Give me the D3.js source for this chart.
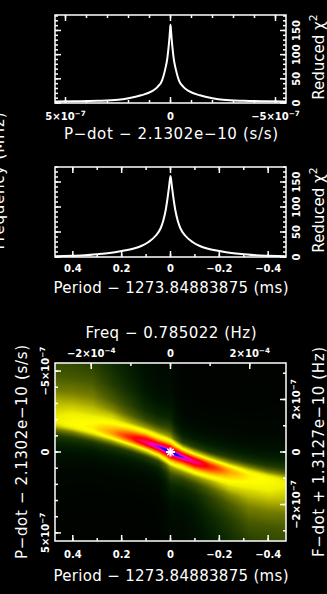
<!DOCTYPE html>
<html>
<head>
<meta charset="utf-8">
<script src="https://cdn.jsdelivr.net/npm/d3@7"></script>
<style>
  html, body { margin: 0; padding: 0; background: #000; }
  svg { display: block; }
  text { fill: #fff; font-family: "DejaVu Sans", "Liberation Sans", Arial, sans-serif; }
</style>
</head>
<body>
<svg id="chart" width="327" height="594"></svg>
<script>
// reduced chi^2 against P-dot offset (units of 1e-7 s/s), best period
const pdotOffsets = [5.5, 4.5, 3.5, 2.5, 2, 1.4, 0.9, 0.6, 0.4, 0.25, 0.15, 0.1, 0.05, 0.02, 0,
  -0.02, -0.05, -0.1, -0.15, -0.25, -0.4, -0.6, -0.9, -1.4, -2, -2.5, -3.5, -4.5, -5.5];
const pdotChi2 = [3, 3.6, 4.6, 6.8, 10, 16, 24, 34, 47, 70, 93, 112, 135, 152, 162,
  152, 135, 112, 93, 70, 47, 34, 24, 16, 10, 6.8, 4.6, 3.6, 3];

// reduced chi^2 against period offset (ms), best P-dot
const periodOffsets = [0.473, 0.4, 0.35, 0.3, 0.25, 0.2, 0.15, 0.12, 0.09, 0.06, 0.04, 0.03, 0.02, 0.012, 0.006, 0,
  -0.006, -0.012, -0.02, -0.03, -0.04, -0.06, -0.09, -0.12, -0.15, -0.2, -0.25, -0.3, -0.35, -0.4, -0.473];
const periodChi2 = [1.5, 2.5, 3.5, 5.5, 8, 12, 17, 22, 30, 43, 58, 72, 93, 118, 140, 162,
  140, 118, 93, 72, 58, 43, 30, 22, 17, 12, 8, 5.5, 3.5, 2.5, 1.5];

// P / P-dot plane: one column per period offset, rows are P-dot offsets from the ridge
const mapPeriods = [0.473, 0.4, 0.32, 0.24, 0.16, 0.1, 0.05, 0.02, 0, -0.02, -0.05, -0.1, -0.16, -0.24, -0.32, -0.4, -0.473];
const mapRidgePdot = [-1.9, -1.74, -1.5, -1.2, -0.88, -0.6, -0.33, -0.14, 0, 0.14, 0.33, 0.6, 0.88, 1.2, 1.5, 1.74, 1.9];
const mapRowOffsets = [-9, -6, -4, -3, -2, -1.4, -0.9, -0.5, -0.25, -0.1, 0, 0.1, 0.25, 0.5, 0.9, 1.4, 2, 3, 4, 6, 9];
const mapChi2 = [
  [11, 13, 15, 17, 20.5, 24, 26.5, 28.5, 29.5, 30, 30, 29, 27, 21, 13, 8, 5, 3, 2, 1.4, 1],
  [10, 12, 14.5, 17, 21, 24.5, 28, 31, 32.5, 33, 33.5, 33, 30, 22, 13, 7.5, 4.5, 2.8, 1.8, 1.3, 1],
  [9, 11, 14, 17, 21, 24.5, 28, 32, 34.5, 35, 35.5, 35, 32, 24, 13, 7, 4, 2.5, 1.6, 1.2, 1],
  [6, 8, 11, 13.5, 18, 22.5, 28.5, 35.5, 40, 42.5, 43, 42, 37, 25, 13, 7, 4, 2.3, 1.5, 1.1, 0.9],
  [4, 5, 7.5, 10, 14, 18.5, 25, 38, 50, 56, 58, 55, 46, 28, 13, 7, 4, 2.3, 1.4, 1, 0.8],
  [3, 3.5, 5, 6.5, 10.5, 15.5, 24, 40, 58, 75, 82, 73, 52, 30, 14, 7, 4, 2.3, 1.4, 1, 0.8],
  [2.5, 3, 4, 5, 9, 14.5, 23.5, 38, 56, 90, 110, 89, 55, 33, 15, 8, 4.5, 2.6, 1.8, 1.3, 1],
  [2, 2.8, 4, 5, 9.5, 15.5, 24, 40, 62, 102, 142, 100, 60, 38, 20, 12, 7, 4.2, 3, 2.2, 1.6],
  [2, 2.8, 4, 5.5, 10, 16, 24, 42, 66, 104, 162, 104, 66, 42, 24, 16, 10, 5.5, 4, 2.8, 2],
  [1.6, 2.2, 3, 4.2, 7, 12, 20, 38, 60, 100, 142, 102, 62, 40, 24, 15.5, 9.5, 5, 4, 2.8, 2],
  [1, 1.3, 1.8, 2.6, 4.5, 8, 15, 33, 55, 89, 110, 90, 56, 38, 23.5, 14.5, 9, 5, 4, 3, 2.5],
  [0.8, 1, 1.4, 2.3, 4, 7, 14, 30, 52, 73, 82, 75, 58, 40, 24, 15.5, 10.5, 6.5, 5, 3.5, 3],
  [0.8, 1, 1.4, 2.3, 4, 7, 13, 28, 46, 55, 58, 56, 50, 38, 25, 18.5, 14, 10, 7.5, 5, 4],
  [0.9, 1.1, 1.5, 2.3, 4, 7, 13, 25, 37, 42, 43, 42.5, 40, 35.5, 28.5, 22.5, 18, 13.5, 11, 8, 6],
  [1, 1.2, 1.6, 2.5, 4, 7, 13, 24, 32, 35, 35.5, 35, 34.5, 32, 28, 24.5, 21, 17, 14, 11, 9],
  [1, 1.3, 1.8, 2.8, 4.5, 7.5, 13, 22, 30, 33, 33.5, 33, 32.5, 31, 28, 24.5, 21, 17, 14.5, 12, 10],
  [1, 1.4, 2, 3, 5, 8, 13, 21, 27, 29, 30, 30, 29.5, 28.5, 26.5, 24, 20.5, 17, 15, 13, 11]
];

// colour table for the plane (reduced chi^2 -> colour)
const colorStops = [0, 3, 6, 10, 14, 18, 22, 26, 30, 34, 40, 46, 54, 62, 74, 88, 100, 112, 122, 170];
const colorValues = ["#000000", "#000800", "#001600", "#0c2800", "#263e00", "#4a5c00", "#808600", "#c0c000",
  "#f0f000", "#ffff00", "#ffc000", "#ff8000", "#ff3000", "#ff0000", "#ff0058", "#ff00a8", "#c800e8", "#5010ff", "#0000ff", "#0000ff"];

// ticks
const chiTicks = [0, 50, 100, 150];
const chiTickText = ["0", "50", "100", "150"];
const pdotTicks = [5, 0, -5];
const pdotTickText = ["5×10^−7", "0", "−5×10^−7"];
const mapPdotTickText = ["5×10^−7", "0", "−5×10^−7"];
const periodTicks = [0.4, 0.2, 0, -0.2, -0.4];
const periodTickText = ["0.4", "0.2", "0", "−0.2", "−0.4"];
const freqTicks = [-2, 0, 2];
const freqTickText = ["−2×10^−4", "0", "2×10^−4"];
const fdotTicks = [2, 0, -2];
const fdotTickText = ["2×10^−7", "0", "−2×10^−7"];

const svg = d3.select("#chart");
svg.append("rect").attr("width", 327).attr("height", 594).attr("fill", "#000");

const L = 55, R = 286;
const top1 = { y0: 15, y1: 103 }, mid = { y0: 167, y1: 257 }, map = { y0: 363, y1: 541 };

function txt(g, x, y, s, size, opt) {
  opt = opt || {};
  const t = g.append("text").attr("font-size", size).attr("text-anchor", "middle");
  if (opt.rot) t.attr("transform", `translate(${x},${y}) rotate(-90)`);
  else t.attr("x", x).attr("y", y);
  if (opt.bold) t.attr("font-weight", "bold");
  const parts = s.split("^");
  t.append("tspan").text(parts[0]);
  if (parts[1]) t.append("tspan").attr("dy", -size * 0.45).attr("font-size", size * 0.72).text(parts[1]);
  if (opt.len) t.attr("textLength", opt.len).attr("lengthAdjust", "spacing");
  return t;
}

function xTicks(g, sc, vals, yEdge, len) {
  g.append("g").selectAll("line").data(vals).join("line")
    .attr("x1", d => sc(d)).attr("x2", d => sc(d))
    .attr("y1", yEdge).attr("y2", yEdge + len);
}
function yTicks(g, sc, vals, xEdge, len) {
  g.append("g").selectAll("line").data(vals).join("line")
    .attr("y1", d => sc(d)).attr("y2", d => sc(d))
    .attr("x1", xEdge).attr("x2", xEdge + len);
}
function frame(g, y0, y1) {
  g.append("rect").attr("x", L).attr("y", y0).attr("width", R - L).attr("height", y1 - y0)
    .attr("fill", "none");
}

const axes = svg.append("g").attr("stroke", "#fff").attr("stroke-width", 1.5);

// ---------- top panel: chi^2 vs P-dot ----------
const xPd = d3.scaleLinear().domain([5.5, -5.5]).range([L, R]);
const yChiTop = d3.scaleLinear().domain([0, 182]).range([top1.y1, top1.y0]);
const line1 = d3.line().x(d => xPd(d[0])).y(d => yChiTop(d[1])).curve(d3.curveMonotoneX);
svg.append("path").datum(d3.zip(pdotOffsets, pdotChi2)).attr("d", line1)
  .attr("fill", "none").attr("stroke", "#fff").attr("stroke-width", 2);
frame(axes, top1.y0, top1.y1);
xTicks(axes, xPd, d3.range(-5, 6, 1), top1.y1, -3);
xTicks(axes, xPd, d3.range(-5, 6, 1), top1.y0, 3);
xTicks(axes, xPd, pdotTicks, top1.y1, -6);
xTicks(axes, xPd, pdotTicks, top1.y0, 6);
yTicks(axes, yChiTop, d3.range(0, 181, 10), L, 3);
yTicks(axes, yChiTop, d3.range(0, 181, 10), R, -3);
yTicks(axes, yChiTop, chiTicks, L, 6);
yTicks(axes, yChiTop, chiTicks, R, -6);
pdotTicks.forEach((v, i) => txt(svg, xPd(v), 120, pdotTickText[i], 10, { bold: true }));
chiTicks.forEach((v, i) => txt(svg, 300, yChiTop(v), chiTickText[i], 10, { bold: true, rot: true }));
txt(svg, 171, 139, "P−dot − 2.1302e−10 (s/s)", 15, { len: 214 });
txt(svg, 324, 57, "Reduced χ^2", 15, { rot: true });

// ---------- middle panel: chi^2 vs period ----------
const xP = d3.scaleLinear().domain([0.473, -0.473]).range([L, R]);
const yChiMid = d3.scaleLinear().domain([0, 180]).range([mid.y1, mid.y0]);
const line2 = d3.line().x(d => xP(d[0])).y(d => yChiMid(d[1])).curve(d3.curveMonotoneX);
svg.append("path").datum(d3.zip(periodOffsets, periodChi2)).attr("d", line2)
  .attr("fill", "none").attr("stroke", "#fff").attr("stroke-width", 2);
frame(axes, mid.y0, mid.y1);
const periodMinor = [0.4, 0.3, 0.2, 0.1, 0, -0.1, -0.2, -0.3, -0.4];
xTicks(axes, xP, periodMinor, mid.y1, -3);
xTicks(axes, xP, periodMinor, mid.y0, 3);
xTicks(axes, xP, periodTicks, mid.y1, -6);
xTicks(axes, xP, periodTicks, mid.y0, 6);
yTicks(axes, yChiMid, d3.range(0, 181, 10), L, 3);
yTicks(axes, yChiMid, d3.range(0, 181, 10), R, -3);
yTicks(axes, yChiMid, chiTicks, L, 6);
yTicks(axes, yChiMid, chiTicks, R, -6);
periodTicks.forEach((v, i) => txt(svg, xP(v), 272, periodTickText[i], 10, { bold: true }));
chiTicks.forEach((v, i) => txt(svg, 300, yChiMid(v), chiTickText[i], 10, { bold: true, rot: true }));
txt(svg, 171, 293, "Period − 1273.84883875 (ms)", 15, { len: 235 });
txt(svg, 324, 210, "Reduced χ^2", 15, { rot: true });

// label of a panel that lies off the left edge of the page
txt(svg, 4, 181, "Frequency (MHz)", 15, { rot: true, len: 137 });

// ---------- bottom panel: P / P-dot plane ----------
const yPd = d3.scaleLinear().domain([-5.5, 5.5]).range([map.y0, map.y1]);
const xF = d3.scaleLinear().domain([-2.915, 2.915]).range([L, R]);
const yFd = d3.scaleLinear().domain([3.389, -3.389]).range([map.y0, map.y1]);

const cw = R - L, ch = map.y1 - map.y0;
const canvas = document.createElement("canvas");
canvas.width = cw; canvas.height = ch;
const ctx = canvas.getContext("2d");
const img = ctx.createImageData(cw, ch);
const colIdx = d3.scaleLinear().domain(mapPeriods).range(d3.range(mapPeriods.length)).clamp(true);
const rowIdx = d3.scaleLinear().domain(mapRowOffsets).range(d3.range(mapRowOffsets.length)).clamp(true);
const ridgeAt = d3.scaleLinear().domain(mapPeriods).range(mapRidgePdot).clamp(true);
const color = d3.scaleLinear().domain(colorStops).range(colorValues).clamp(true);
const nc = mapPeriods.length, nr = mapRowOffsets.length;
for (let j = 0; j < ch; j++) {
  const v = yPd.invert(map.y0 + j + 0.5);
  for (let i = 0; i < cw; i++) {
    const u = xP.invert(L + i + 0.5);
    const ci = colIdx(u), c0 = Math.min(Math.floor(ci), nc - 2), ct = ci - c0;
    const ri = rowIdx(v - ridgeAt(u)), r0 = Math.min(Math.floor(ri), nr - 2), rt = ri - r0;
    const a = mapChi2[c0][r0] * (1 - rt) + mapChi2[c0][r0 + 1] * rt;
    const b = mapChi2[c0 + 1][r0] * (1 - rt) + mapChi2[c0 + 1][r0 + 1] * rt;
    const c = d3.rgb(color(a * (1 - ct) + b * ct));
    const k = (j * cw + i) * 4;
    img.data[k] = c.r; img.data[k + 1] = c.g; img.data[k + 2] = c.b; img.data[k + 3] = 255;
  }
}
ctx.putImageData(img, 0, 0);
svg.append("image").attr("x", L).attr("y", map.y0).attr("width", cw).attr("height", ch)
  .attr("href", canvas.toDataURL());

// best-fit marker
const star = svg.append("g").attr("stroke", "#fff")
  .attr("transform", `translate(${xP(0)},${yPd(0)})`);
[0, 45, 90, 135].forEach(a => star.append("line")
  .attr("x1", -4.5).attr("x2", 4.5).attr("y1", 0).attr("y2", 0)
  .attr("transform", `rotate(${a})`).attr("stroke-width", a % 90 ? 1.3 : 2));

const axes2 = svg.append("g").attr("stroke", "#fff").attr("stroke-width", 1.5);
frame(axes2, map.y0, map.y1);
xTicks(axes2, xP, periodMinor, map.y1, -3);
xTicks(axes2, xP, periodTicks, map.y1, -6);
xTicks(axes2, xF, [-2, -1, 0, 1, 2], map.y0, 3);
xTicks(axes2, xF, freqTicks, map.y0, 6);
yTicks(axes2, yPd, d3.range(-5, 6, 1), L, 3);
yTicks(axes2, yPd, pdotTicks, L, 6);
yTicks(axes2, yFd, [-3, -2, -1, 0, 1, 2, 3], R, -3);
yTicks(axes2, yFd, fdotTicks, R, -6);

periodTicks.forEach((v, i) => txt(svg, xP(v), 558, periodTickText[i], 10, { bold: true }));
freqTicks.forEach((v, i) => txt(svg, xF(v), 357, freqTickText[i], 10, { bold: true }));
pdotTicks.forEach((v, i) => txt(svg, 49, yPd(v), mapPdotTickText[i], 10, { bold: true, rot: true }));
fdotTicks.forEach((v, i) => txt(svg, 300, yFd(v), fdotTickText[i], 10, { bold: true, rot: true }));
txt(svg, 171, 581, "Period − 1273.84883875 (ms)", 15, { len: 235 });
txt(svg, 171, 338, "Freq − 0.785022 (Hz)", 15, { len: 171 });
txt(svg, 27, 452, "P−dot − 2.1302e−10 (s/s)", 15, { rot: true, len: 214 });
txt(svg, 324, 452, "F−dot + 1.3127e−10 (Hz)", 15, { rot: true, len: 210 });
</script>
</body>
</html>
